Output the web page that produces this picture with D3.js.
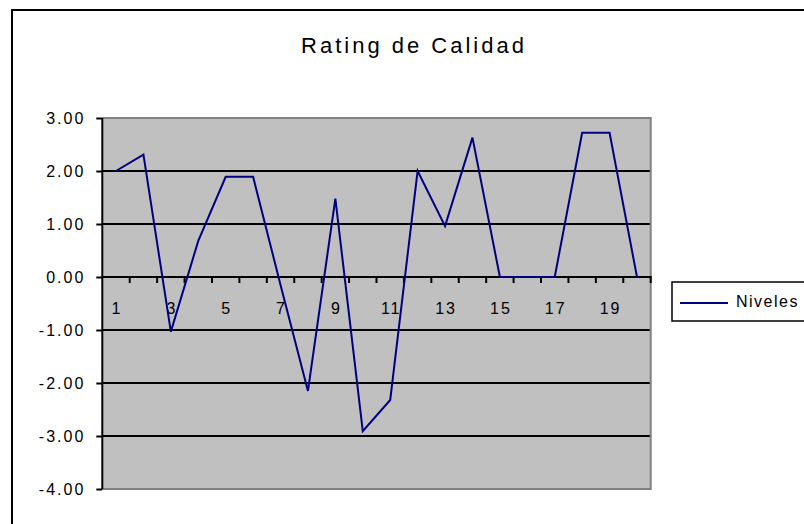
<!DOCTYPE html>
<html>
<head>
<meta charset="utf-8">
<script src="https://cdn.jsdelivr.net/npm/d3@7"></script>
<style>
  body { margin: 0; background: #fff; }
  svg { display: block; font-family: "Liberation Sans", Arial, sans-serif; }
</style>
</head>
<body>
<div id="chart"></div>
<script>
const categories = [1, 2, 3, 4, 5, 6, 7, 8, 9, 10, 11, 12, 13, 14, 15, 16, 17, 18, 19, 20]
const niveles = [2.00, 2.31, -1.03, 0.68, 1.89, 1.89, -0.15, -2.15, 1.48, -2.91,
                 -2.32, 2.00, 0.96, 2.63, 0.00, 0.00, 0.00, 2.72, 2.72, 0.00]
const yTicks = [3, 2, 1, 0, -1, -2, -3, -4]
const xLabels = [1, 3, 5, 7, 9, 11, 13, 15, 17, 19]
const title = "Rating de Calidad"
const seriesName = "Niveles"

const width = 804
const height = 524
const plot = { left: 102.3, right: 650.7, top: 118, bottom: 489 }

const svg = d3.select("#chart").append("svg")
    .attr("width", width)
    .attr("height", height)

// chart border (runs off the right and bottom of the picture)
svg.append("rect")
    .attr("x", 12).attr("y", 10)
    .attr("width", 900).attr("height", 600)
    .attr("fill", "white")
    .attr("stroke", "black")
    .attr("stroke-width", 2)

svg.append("text")
    .attr("x", 414).attr("y", 53)
    .attr("text-anchor", "middle")
    .style("font-size", "22px")
    .style("letter-spacing", "3px")
    .text(title)

const x = d3.scaleBand()
    .domain(categories)
    .range([plot.left, plot.right])

const y = d3.scaleLinear()
    .domain([-4, 3])
    .range([plot.bottom, plot.top])

const cx = (d) => x(d) + x.bandwidth() / 2

// plot area
svg.append("rect")
    .attr("x", plot.left).attr("y", plot.top)
    .attr("width", plot.right - plot.left)
    .attr("height", plot.bottom - plot.top)
    .attr("fill", "#c0c0c0")

// gridlines
svg.append("g")
    .selectAll("line")
    .data(yTicks.filter((d) => d < 3 && d > -4))
    .join("line")
    .attr("x1", plot.left).attr("x2", plot.right)
    .attr("y1", (d) => y(d)).attr("y2", (d) => y(d))
    .attr("stroke", "black")
    .attr("stroke-width", 2)

// plot area border
svg.append("path")
    .attr("d", `M${plot.left},${plot.top}H${plot.right}V${plot.bottom}H${plot.left}`)
    .attr("fill", "none")
    .attr("stroke", "#808080")
    .attr("stroke-width", 2)

// y axis
const yAxis = svg.append("g")
    .attr("transform", `translate(${plot.left},0)`)
    .call(d3.axisLeft(y)
        .tickValues(yTicks)
        .tickFormat((d) => d.toFixed(2))
        .tickSize(6)
        .tickPadding(11))
yAxis.select(".domain").attr("stroke-width", 2).attr("d", `M0,${plot.top}V${plot.bottom}`)
yAxis.selectAll(".tick line").attr("stroke-width", 2)
yAxis.selectAll("text")
    .style("font-size", "16px")
    .style("letter-spacing", "2px")
    .attr("fill", "black")

// x axis crossing at 0
const xAxis = svg.append("g")
    .attr("transform", `translate(0,${y(0)})`)
xAxis.append("line")
    .attr("x1", plot.left).attr("x2", plot.right + 1)
    .attr("stroke", "black")
    .attr("stroke-width", 2)
xAxis.selectAll(".xtick")
    .data(categories.slice(1).concat(["end"]))
    .join("line")
    .attr("class", "xtick")
    .attr("x1", (d) => d === "end" ? plot.right : x(d))
    .attr("x2", (d) => d === "end" ? plot.right : x(d))
    .attr("y1", 0).attr("y2", 6)
    .attr("stroke", "black")
    .attr("stroke-width", 2)
xAxis.selectAll(".xlabel")
    .data(xLabels)
    .join("text")
    .attr("class", "xlabel")
    .attr("x", (d) => cx(d) + 1)
    .attr("y", 37)
    .attr("text-anchor", "middle")
    .style("font-size", "16px")
    .style("letter-spacing", "2px")
    .text((d) => d)

// series
const line = d3.line()
    .x((d, i) => cx(categories[i]))
    .y((d) => y(d))

svg.append("path")
    .datum(niveles)
    .attr("d", line)
    .attr("fill", "none")
    .attr("stroke", "#000080")
    .attr("stroke-width", 2)

// legend
const legend = svg.append("g")
    .attr("transform", "translate(672, 282)")
legend.append("rect")
    .attr("width", 200).attr("height", 39)
    .attr("fill", "white")
    .attr("stroke", "black")
    .attr("stroke-width", 1.5)
legend.append("line")
    .attr("x1", 8).attr("x2", 56)
    .attr("y1", 21).attr("y2", 21)
    .attr("stroke", "#000080")
    .attr("stroke-width", 2)
legend.append("text")
    .attr("x", 64).attr("y", 25)
    .style("font-size", "16px")
    .style("letter-spacing", "1.5px")
    .text(seriesName)
</script>
</body>
</html>
